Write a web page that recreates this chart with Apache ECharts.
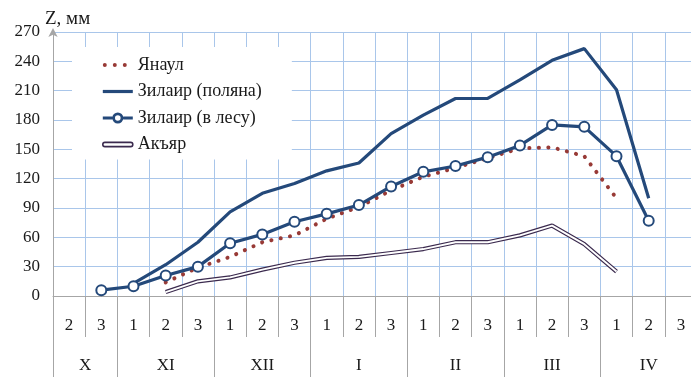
<!DOCTYPE html>
<html>
<head>
<meta charset="utf-8">
<script src="https://cdn.jsdelivr.net/npm/echarts@6/dist/echarts.min.js"></script>
<style>
html,body{margin:0;padding:0;background:#fff;overflow:hidden;width:691px;height:377px;}
#chart{width:700px;height:377px;}
</style>
</head>
<body>
<div id="chart"></div>
<script>
// Decade numbers (category labels) and month groups
const categories = ['2','3','1','2','3','1','2','3','1','2','3','1','2','3','1','2','3','1','2','3'];
const monthLabels = ['X','XI','XII','I','II','III','IV'];
const monthSizes = [2,3,3,3,3,3,3];
const yTicks = [0,30,60,90,120,150,180,210,240,270];

// Series values (мм)
const yanaul    = [null,null,null,14,29,40,55,62,79,91,108,122,131,141,151,152,143,100,null,null];
const zilairPol = [null,null,13,32,55,86,105,115,128,136,166,185,202,202,221,241,253,211,100,null];
const zilairLes = [null,6,10,21,30,54,63,76,84,93,112,127,133,142,154,175,173,143,77,null];
const akyar     = [null,null,null,4,15,19,27,34,39,40,44,48,55,55,62,72,53,25,null,null];

const seriesNames = ['Янаул','Зилаир (поляна)','Зилаир (в лесу)','Акъяр'];

// month boundaries / centres derived from group sizes
const monthBounds = [0];
monthSizes.forEach(s => monthBounds.push(monthBounds[monthBounds.length-1] + s));
const monthCenters = monthSizes.map((s,i) => monthBounds[i] + s/2);

const FONT = 'Liberation Serif';
const BLUE = '#24497a';
const RED = '#983a36';
const PURPLE = '#3b2a4e';
const GRIDC = '#a9c6ea';
const AXISC = '#a6a6a6';

const ICON_DOTS = 'path://M0,2a2,2 0 1,0 4,0a2,2 0 1,0 -4,0Z M10,2a2,2 0 1,0 4,0a2,2 0 1,0 -4,0Z M20,2a2,2 0 1,0 4,0a2,2 0 1,0 -4,0Z M30,2L30.01,2Z';
const ICON_LINE = 'path://M0,0H30V3.2H0Z';
const ICON_RING = 'path://M0,-1.6H9.6V1.6H0Z M20.4,-1.6H30V1.6H20.4Z M9.5,0A5.5,5.5 0 1,1 20.5,0A5.5,5.5 0 1,1 9.5,0Z M12.2,0A2.8,2.8 0 1,0 17.8,0A2.8,2.8 0 1,0 12.2,0Z';
const ICON_DOUBLE = 'path://M1.5,0H28.5A1.5,1.5 0 0,1 28.5,4.4H1.5A1.5,1.5 0 0,1 1.5,0Z';

const chart = echarts.init(document.getElementById('chart'), null, {renderer:'canvas'});
chart.setOption({
  animation: false,
  backgroundColor: '#fff',
  title: {
    text: 'Z, мм', left: 40, top: 5,
    textStyle: {fontFamily: FONT, fontSize: 19, fontWeight: 'normal', color: '#1a1a1a'}
  },
  grid: {left: 53, top: 32, width: 644, height: 264, containLabel: false},
  legend: {
    orient: 'vertical',
    left: 72, top: 47,
    padding: [9, 30, 6, 30],
    backgroundColor: '#fff',
    itemWidth: 30, itemHeight: 14, itemGap: 8.5,
    textStyle: {fontFamily: FONT, fontSize: 18, color: '#1a1a1a', lineHeight: 18},
    data: [
      {name: seriesNames[0], icon: ICON_DOTS, itemStyle: {color: RED, borderWidth: 0}},
      {name: seriesNames[1], icon: ICON_LINE, itemStyle: {color: BLUE, borderWidth: 0}},
      {name: seriesNames[2], icon: ICON_RING, itemStyle: {color: BLUE, borderWidth: 0}},
      {name: seriesNames[3], icon: ICON_DOUBLE,
       itemStyle: {color: '#fff', borderColor: PURPLE, borderWidth: 1.6}}
    ]
  },
  xAxis: [
    {
      type: 'category',
      data: categories,
      boundaryGap: true,
      axisLine: {show: true, lineStyle: {color: AXISC, width: 1}},
      axisTick: {show: true, interval: 0, length: 41, lineStyle: {color: AXISC, width: 1}},
      axisLabel: {interval: 0, margin: 21, fontFamily: FONT, fontSize: 17, color: '#1a1a1a'},
      splitLine: {show: true, interval: 0, lineStyle: {color: GRIDC, width: 1}}
    },
    {
      type: 'value',
      min: 0, max: 20,
      position: 'bottom',
      axisLine: {show: false},
      splitLine: {show: false},
      axisTick: {show: true, customValues: monthBounds, length: 82, lineStyle: {color: AXISC, width: 1}},
      axisLabel: {
        show: true, customValues: monthCenters, margin: 61,
        fontFamily: FONT, fontSize: 17, color: '#1a1a1a',
        formatter: v => {
          const i = monthCenters.indexOf(v);
          return i >= 0 ? monthLabels[i] : '';
        }
      }
    }
  ],
  yAxis: {
    type: 'value',
    min: yTicks[0], max: yTicks[yTicks.length-1], interval: 30,
    axisLine: {show: true, lineStyle: {color: AXISC, width: 1}, symbol: ['none','arrow'], symbolSize: [7, 9], symbolOffset: [0, 4]},
    axisTick: {show: false},
    axisLabel: {margin: 13, fontFamily: FONT, fontSize: 17, color: '#1a1a1a'},
    splitLine: {show: true, lineStyle: {color: GRIDC, width: 1}}
  },
  series: [
    {
      name: seriesNames[0], type: 'line', data: yanaul, symbol: 'none',
      lineStyle: {color: RED, width: 4, type: [0.1, 9.4], cap: 'round'},
      itemStyle: {color: RED}, z: 3
    },
    {
      name: seriesNames[1], type: 'line', data: zilairPol, symbol: 'none',
      lineStyle: {color: BLUE, width: 3.2},
      itemStyle: {color: BLUE}, z: 3
    },
    {
      name: seriesNames[2], type: 'line', data: zilairLes,
      symbol: 'emptyCircle', symbolSize: 10,
      lineStyle: {color: BLUE, width: 3.2},
      itemStyle: {color: BLUE, borderColor: BLUE, borderWidth: 3}, z: 4
    },
    {
      name: seriesNames[3], type: 'line', data: akyar, symbol: 'none',
      lineStyle: {color: PURPLE, width: 4.2},
      itemStyle: {color: PURPLE}, z: 3
    },
    {
      name: 'akyar-inner', type: 'line', data: akyar, symbol: 'none',
      lineStyle: {color: '#fff', width: 1.9},
      itemStyle: {color: '#fff'}, z: 3, silent: true
    }
  ]
});
</script>
</body>
</html>
